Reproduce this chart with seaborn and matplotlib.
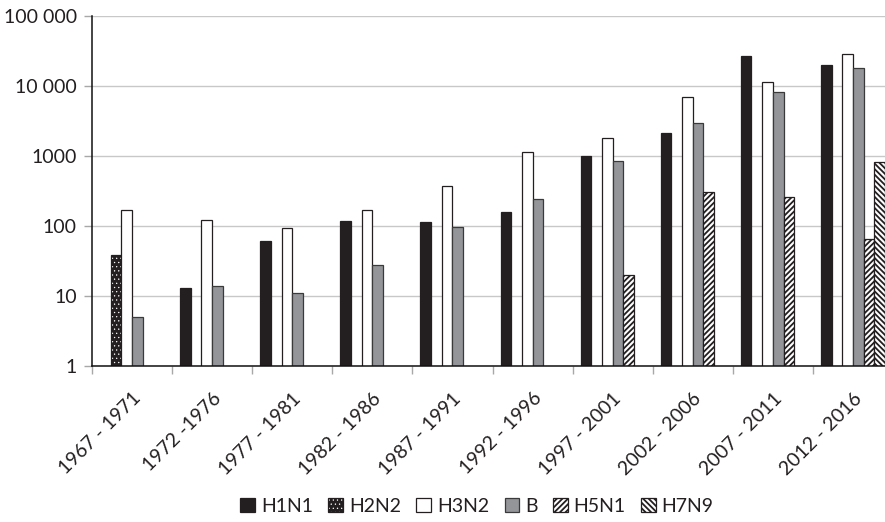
import numpy as np
import pandas as pd
import matplotlib
matplotlib.use("Agg")
import matplotlib.pyplot as plt
import seaborn as sns
from matplotlib.patches import Patch
from matplotlib.colors import to_rgba
from matplotlib.ticker import NullLocator, FixedLocator

nan = np.nan

# Five-year periods and influenza subtypes
periods = ["1967 - 1971", "1972 -1976", "1977 - 1981", "1982 - 1986", "1987 - 1991",
           "1992 - 1996", "1997 - 2001", "2002 - 2006", "2007 - 2011", "2012 - 2016"]
subtypes = ["H1N1", "H2N2", "H3N2", "B", "H5N1", "H7N9"]

# Counts per period for each subtype (log scale)
h1n1 = [nan, 13, 62, 118, 114, 160, 1000, 2100, 27000, 20000]
h2n2 = [38, nan, nan, nan, nan, nan, nan, nan, nan, nan]
h3n2 = [170, 120, 94, 170, 370, 1130, 1800, 6900, 11300, 28500]
b = [5, 14, 11, 28, 97, 245, 840, 2950, 8300, 18000]
h5n1 = [nan, nan, nan, nan, nan, nan, 20, 310, 260, 65]
h7n9 = [nan, nan, nan, nan, nan, nan, nan, nan, nan, 820]

y_ticks = [1, 10, 100, 1000, 10000, 100000]
y_tick_labels = ["1", "10", "100", "1000", "10 000", "100 000"]

series = dict(zip(subtypes, [h1n1, h2n2, h3n2, b, h5n1, h7n9]))
rows = []
for name, vals in series.items():
    for per, v in zip(periods, vals):
        rows.append({"period": per, "subtype": name, "count": v})
df = pd.DataFrame(rows).dropna()

DARK = "#231f20"
GREY = "#939598"
styles = {
    "H1N1": dict(face=DARK, edge=DARK, hatch=None, hcol=None, hlw=1.3),
    "H2N2": dict(face=DARK, edge=DARK, hatch="....", hcol="white", hlw=0.4),
    "H3N2": dict(face="white", edge=DARK, hatch=None, hcol=None, hlw=1.3),
    "B":    dict(face=GREY, edge="#3a3a3a", hatch=None, hcol=None, hlw=1.3),
    "H5N1": dict(face="white", edge=DARK, hatch="//////", hcol=None, hlw=1.3),
    "H7N9": dict(face="white", edge=DARK, hatch="\\\\\\\\\\\\", hcol=None, hlw=1.3),
}

sns.set_style("white")
plt.rcParams["font.family"] = ["Lato", "DejaVu Sans"]
plt.rcParams["hatch.linewidth"] = 1.3

fig = plt.figure(figsize=(8.85, 5.22), dpi=100)
ax = fig.add_axes([92 / 885, 156 / 522, 801 / 885, 350 / 522])

palette = {k: v["face"] for k, v in styles.items()}
sns.barplot(data=df, x="period", y="count", hue="subtype", order=periods,
            hue_order=subtypes, palette=palette, saturation=1, width=0.8,
            legend=False, ax=ax, errorbar=None)
ax.set_yscale("log")


def style_patch(p, st, lw=0.9):
    p.set_facecolor(st["face"])
    p.set_edgecolor(st["edge"])
    p.set_linewidth(lw)
    if st["hatch"]:
        p.set_hatch(st["hatch"])
        if st["hcol"]:
            p._hatch_color = to_rgba(st["hcol"])
        if hasattr(p, "set_hatch_linewidth"):
            p.set_hatch_linewidth(st["hlw"])
        else:
            p._hatch_linewidth = st["hlw"]


present = [s for s in subtypes if s in set(df["subtype"])]
for name, cont in zip(present, ax.containers):
    for p in cont.patches:
        style_patch(p, styles[name])

ax.set_ylim(1, 100000)
ax.set_xlim(-0.5, 9.5)
ax.set_xlabel("")
ax.set_ylabel("")

# grid and spines
ax.set_axisbelow(True)
ax.yaxis.grid(True, color="#c8c8c8", linewidth=1.0)
ax.xaxis.grid(False)
for s in ["top", "right"]:
    ax.spines[s].set_visible(False)
for s in ["left", "bottom"]:
    ax.spines[s].set_color("#111111")
    ax.spines[s].set_linewidth(1.1)

ax.set_yticks(y_ticks)
ax.set_yticklabels(y_tick_labels)
ax.yaxis.set_minor_locator(NullLocator())
ax.tick_params(axis="y", which="major", left=True, length=6, width=1,
               color="#a8a8a8", pad=5, labelsize=14, labelcolor=DARK)

ax.set_xticks(range(len(periods)))
ax.set_xticklabels(periods)
ax.xaxis.set_minor_locator(FixedLocator(np.arange(-0.5, len(periods), 1.0)))
ax.tick_params(axis="x", which="major", bottom=False, length=0, pad=17,
               labelsize=14, labelcolor=DARK)
ax.tick_params(axis="x", which="minor", bottom=True, length=6, width=1,
               color="#a8a8a8")
for lbl in ax.get_xticklabels():
    lbl.set_rotation(45)
    lbl.set_ha("right")
    lbl.set_va("top")
    lbl.set_rotation_mode("anchor")

# legend
handles = []
for name in subtypes:
    st = styles[name]
    h = Patch(facecolor=st["face"], edgecolor=st["edge"], hatch=st["hatch"],
              linewidth=0.9, label=name)
    handles.append(h)
leg = fig.legend(handles=handles, loc="center", bbox_to_anchor=(477 / 885, 1 - 506 / 522),
                 ncol=6, frameon=False, handlelength=0.75, handleheight=0.75,
                 handletextpad=0.3, columnspacing=0.8, fontsize=14)
for lp, name in zip(leg.get_patches(), subtypes):
    style_patch(lp, styles[name])
for t in leg.get_texts():
    t.set_color(DARK)

fig.savefig("out.png", dpi=100)
